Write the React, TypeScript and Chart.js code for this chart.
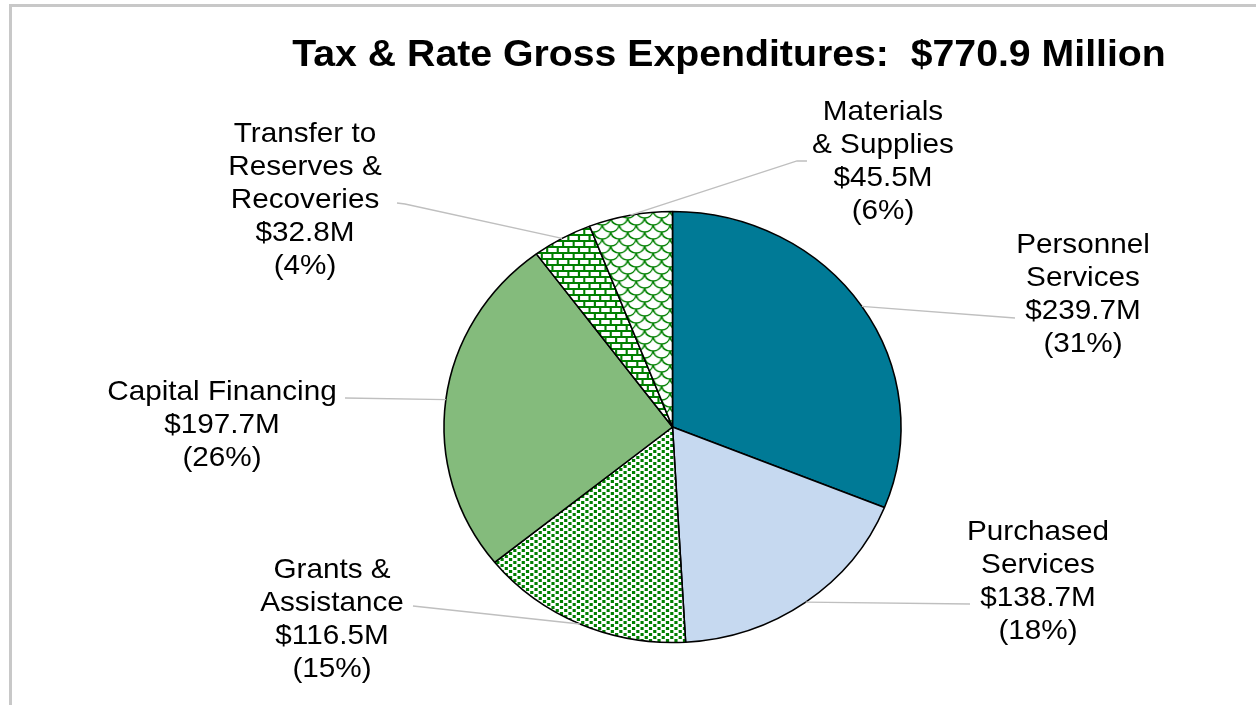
import React, { useEffect, useRef } from "react";
import { Chart, registerables } from "chart.js";

Chart.register(...registerables);

// ---------- data ----------
const categories = [
  "Personnel Services",
  "Purchased Services",
  "Grants & Assistance",
  "Capital Financing",
  "Transfer to Reserves & Recoveries",
  "Materials & Supplies",
];
const values = [239.7, 138.7, 116.5, 197.7, 32.8, 45.5];
const labelLines = [
  ["Personnel", "Services"],
  ["Purchased", "Services"],
  ["Grants &", "Assistance"],
  ["Capital Financing"],
  ["Transfer to", "Reserves &", "Recoveries"],
  ["Materials", "& Supplies"],
];
const TITLE = "Tax & Rate Gross Expenditures:  $770.9 Million";

// ---------- layout / style ----------
const S = 228.5 / 215.5; // horizontal stretch of the original picture
const RADIUS = 215.5;
const FONT = "'Liberation Sans', Arial, sans-serif";
const LINE_H = 33;
const labelPos = [
  { x: 1083, y: 243 },
  { x: 1038, y: 530 },
  { x: 332, y: 568 },
  { x: 222, y: 390 },
  { x: 305, y: 132 },
  { x: 883, y: 110 },
];
const leaderPts: number[][][] = [
  [[1015, 318]],
  [[970, 604]],
  [[413, 606]],
  [[345, 398]],
  [[397, 203], [405, 204]],
  [[807, 161], [797, 161]],
];
const GREEN = "#008000";

function makeTile(w: number, h: number, draw: (c: CanvasRenderingContext2D) => void) {
  const t = document.createElement("canvas");
  t.width = w;
  t.height = h;
  const c = t.getContext("2d")!;
  c.fillStyle = "#ffffff";
  c.fillRect(0, 0, w, h);
  draw(c);
  return t;
}

function dotsTile() {
  return makeTile(8, 6, (c) => {
    c.fillStyle = GREEN;
    c.fillRect(0, 0, 3, 3);
    c.fillRect(4, 3, 3, 3);
  });
}

function brickTile() {
  return makeTile(10, 12, (c) => {
    c.fillStyle = GREEN;
    c.fillRect(0, 0, 10, 2);
    c.fillRect(0, 6, 10, 2);
    c.fillRect(0, 0, 2, 6);
    c.fillRect(5, 6, 2, 6);
  });
}

function scaleTile() {
  return makeTile(16, 14, (c) => {
    c.strokeStyle = GREEN;
    c.lineWidth = 1.4;
    for (const dx of [-16, 0, 16]) {
      for (const dy of [-14, 0, 14]) {
        for (const [cx, cy] of [
          [0, 0],
          [8, 7],
        ]) {
          c.beginPath();
          c.arc(cx + dx, cy + dy, 8, 0.15, Math.PI - 0.15);
          c.stroke();
        }
      }
    }
  });
}

const stretchPlugin = {
  id: "stretchAndLabels",
  beforeDraw(chart: any) {
    const ctx = chart.ctx;
    ctx.save();
    ctx.scale(S, 1);
  },
  afterDatasetsDraw(chart: any) {
    const ctx: CanvasRenderingContext2D = chart.ctx;
    const meta = chart.getDatasetMeta(0);
    const data: number[] = chart.data.datasets[0].data;
    const total = data.reduce((a, b) => a + b, 0);
    // leader lines
    ctx.save();
    ctx.strokeStyle = "#BFBFBF";
    ctx.lineWidth = 1.3;
    meta.data.forEach((arc: any, i: number) => {
      const p = arc.getProps(["x", "y", "startAngle", "endAngle", "outerRadius"], true);
      const mid = (p.startAngle + p.endAngle) / 2;
      const ax = p.x + p.outerRadius * Math.cos(mid);
      const ay = p.y + p.outerRadius * Math.sin(mid);
      const pts = leaderPts[i].slice().reverse();
      ctx.beginPath();
      ctx.moveTo(ax, ay);
      for (const [px, py] of pts) ctx.lineTo(px / S, py);
      ctx.stroke();
    });
    ctx.restore();
    // labels
    ctx.save();
    ctx.fillStyle = "#000";
    ctx.font = `28px ${FONT}`;
    ctx.textAlign = "center";
    ctx.textBaseline = "alphabetic";
    data.forEach((v, i) => {
      const lines = [
        ...labelLines[i],
        `$${v.toFixed(1)}M`,
        `(${Math.round((v / total) * 100)}%)`,
      ];
      const pos = labelPos[i];
      lines.forEach((ln, k) => {
        ctx.fillText(ln, pos.x / S, pos.y + k * LINE_H + 10);
      });
    });
    // title
    ctx.font = `bold 37px ${FONT}`;
    ctx.fillText(TITLE, 729 / S, 66);
    ctx.restore();
  },
  afterDraw(chart: any) {
    const ctx: CanvasRenderingContext2D = chart.ctx;
    ctx.restore();
    ctx.save();
    ctx.fillStyle = "#C8C8C8";
    ctx.fillRect(9, 4, 1247, 3);
    ctx.fillRect(9, 4, 3, 701);
    ctx.restore();
  },
};

export default function App() {
  const ref = useRef<HTMLCanvasElement>(null);
  useEffect(() => {
    const canvas = ref.current!;
    const ctx = canvas.getContext("2d")!;
    const fills: any[] = [
      "#007A96",
      "#C6D9F0",
      ctx.createPattern(dotsTile(), "repeat"),
      "#84BB7C",
      ctx.createPattern(brickTile(), "repeat"),
      ctx.createPattern(scaleTile(), "repeat"),
    ];
    const centerX = 672.5 / S;
    const padLeft = 2 * (centerX - 1256 / 2);
    const chart = new Chart(canvas, {
      type: "pie",
      data: {
        labels: categories,
        datasets: [
          {
            data: values,
            backgroundColor: fills,
            borderColor: "#000000",
            borderWidth: 1.5,
            radius: RADIUS,
          } as any,
        ],
      },
      options: {
        animation: false,
        responsive: true,
        maintainAspectRatio: false,
        events: [],
        layout: { padding: { left: padLeft, right: 0, top: 149, bottom: 0 } },
        plugins: {
          legend: { display: false },
          tooltip: { enabled: false },
          title: { display: false },
        },
      } as any,
      plugins: [stretchPlugin],
    });
    return () => chart.destroy();
  }, []);
  return (
    <div
      style={{
        position: "fixed",
        left: 0,
        top: 0,
        width: 1256,
        height: 705,
        background: "#ffffff",
      }}
    >
      <canvas ref={ref} />
    </div>
  );
}
